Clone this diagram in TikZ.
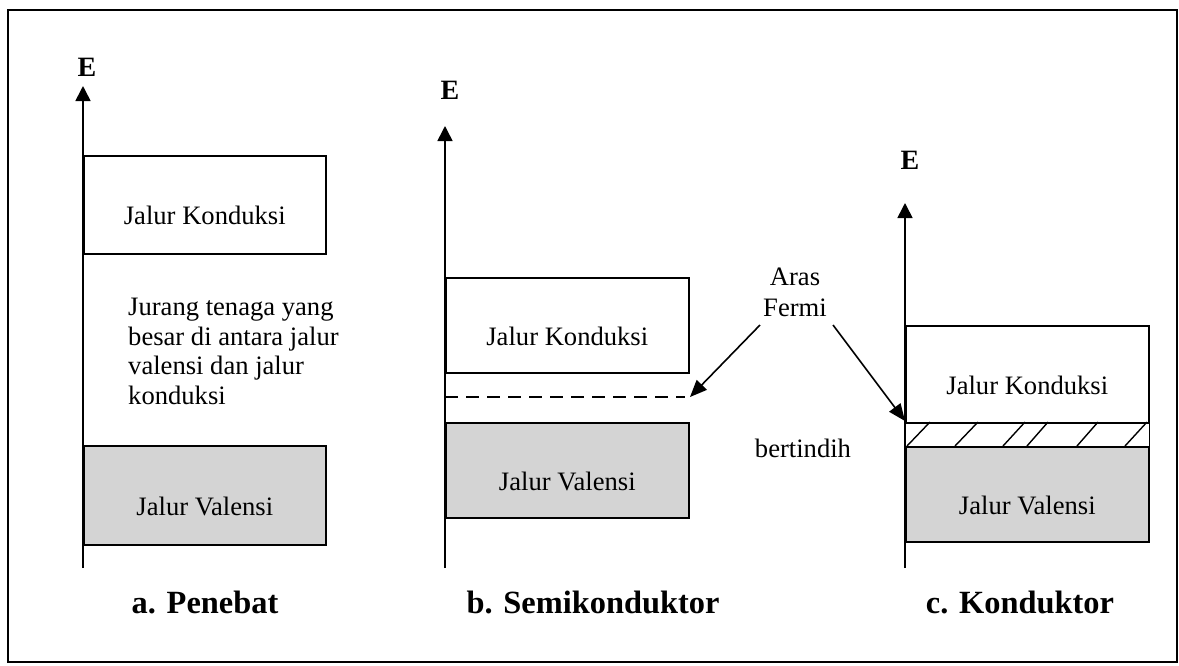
\documentclass[tikz,border=0pt]{standalone}
\usepackage{fontspec}
\setmainfont{Liberation Serif}
\usetikzlibrary{arrows.meta}
\begin{document}
\begin{tikzpicture}[x=1pt,y=-1pt,
  lbl/.style={font=\fontsize{26.6}{29.5}\selectfont, inner sep=0pt},
  ttl/.style={font=\fontsize{32.4}{36}\selectfont\bfseries, inner sep=0pt},
  elbl/.style={font=\fontsize{28}{30}\selectfont\bfseries, inner sep=0pt},
  band/.style={draw, line width=1.6pt, inner sep=0pt, anchor=north west},
  valband/.style={band, fill=black!17},
  axisline/.style={line width=1.6pt, -{Triangle[length=15pt,width=15pt]}},
  ptr/.style={line width=1.6pt, -{Triangle[length=17pt,width=14pt]}},
  hatchline/.style={line width=1.4pt},
  fermiline/.style={line width=1.6pt, dash pattern=on 13pt off 8pt}]
\useasboundingbox (0,0) rectangle (1179,665);
\fill[white] (0,0) rectangle (1179,665);
\draw[line width=2pt] (8,10) rectangle (1177,662);

% ---------- a. Penebat ----------
\coordinate (a0) at (83,568);
\coordinate (a1) at (83,86);
\draw[axisline] (a0) -- (a1);
\node[elbl] (Ea) at (87,67) {E};
\node[band, minimum width=242pt, minimum height=98pt] (ka) at (83,155) {};
\node[lbl] (kat) at ([yshift=-11pt]ka.center) {Jalur Konduksi};
\node[valband, minimum width=242pt, minimum height=99pt] (va) at (83,445) {};
\node[lbl] (vat) at ([yshift=-11pt]va.center) {Jalur Valensi};
\node[lbl, align=left, anchor=north west] (gap) at (128,298)
  {Jurang tenaga yang\\besar di antara jalur\\valensi dan jalur\\konduksi};
\node[ttl] (ta) at (205,602) {a. Penebat};

% ---------- b. Semikonduktor ----------
\coordinate (b0) at (445,568);
\coordinate (b1) at (445,126);
\draw[axisline] (b0) -- (b1);
\node[elbl] (Eb) at (450,90) {E};
\node[band, minimum width=243pt, minimum height=95pt] (kb) at (445,277) {};
\node[lbl] (kbt) at ([yshift=-11pt]kb.center) {Jalur Konduksi};
\node[valband, minimum width=243pt, minimum height=95pt] (vb) at (445,422) {};
\node[lbl] (vbt) at ([yshift=-11pt]vb.center) {Jalur Valensi};
\coordinate (fb0) at (445,397);
\coordinate (fb1) at (685,397);
\draw[fermiline] (fb0) -- (fb1);
\node[ttl] (tb) at (593,602) {b. Semikonduktor};

% ---------- Aras Fermi ----------
\node[lbl, align=center, anchor=north, font=\fontsize{26.6}{31}\selectfont] (fermi) at (795,268) {Aras\\Fermi};
\coordinate (fl0) at (760,325);
\coordinate (fl1) at (690,397);
\coordinate (fr0) at (833,325);
\coordinate (fr1) at (905,421);
\draw[ptr] (fl0) -- (fl1);
\draw[ptr] (fr0) -- (fr1);
\node[lbl] (over) at (803,448) {bertindih};

% ---------- c. Konduktor ----------
\coordinate (c0) at (905,568);
\coordinate (c1) at (905,203);
\draw[axisline] (c0) -- (c1);
\node[elbl] (Ec) at (910,160) {E};
\node[band, minimum width=243pt, minimum height=97pt] (kc) at (905,325) {};
\node[lbl] (kct) at ([yshift=-11pt]kc.center) {Jalur Konduksi};
\node[valband, minimum width=243pt, minimum height=95pt] (vc) at (905,446) {};
\node[lbl] (vct) at ([yshift=-11pt]vc.center) {Jalur Valensi};
\draw[line width=1.6pt] (kc.south east) -- (vc.north east);
\foreach \xb/\xt in {907/930, 955/978, 1003/1025, 1027/1048, 1077/1098, 1125/1147}
  \draw[hatchline] (\xb,446) -- (\xt,422);
\node[ttl] (tc) at (1020,602) {c. Konduktor};
\end{tikzpicture}
\end{document}
